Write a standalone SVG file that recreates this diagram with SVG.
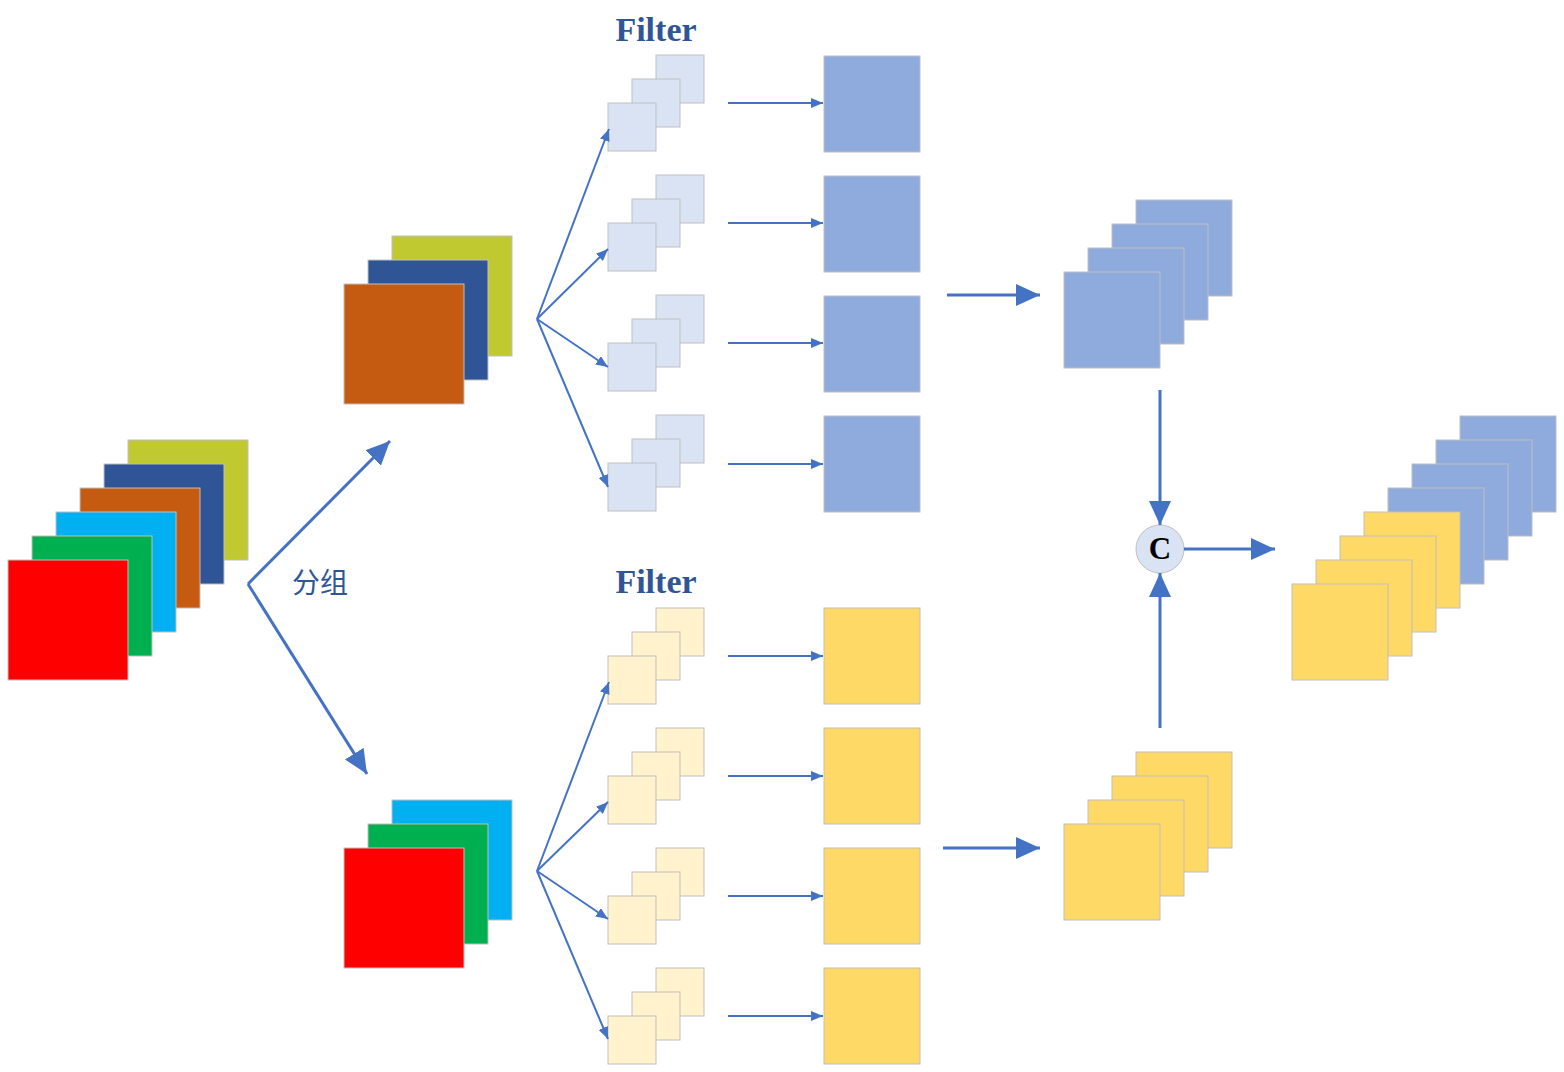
<svg xmlns="http://www.w3.org/2000/svg" width="1564" height="1072" viewBox="0 0 1564 1072">
<style>
rect{stroke:#BFBFBF;stroke-width:1}
.red{fill:#FF0000}.grn{fill:#00B050}.cyn{fill:#00B0F0}.org{fill:#C55A11}.nav{fill:#2F5597}.olv{fill:#C0C930}
.lb{fill:#DAE3F3}.ly{fill:#FFF2CC}.mb{fill:#8FAADC}.my{fill:#FFD966}
.thin{stroke:#4472C4;stroke-width:2;fill:none;marker-end:url(#sm)}
.thick{stroke:#4472C4;stroke-width:3;fill:none;marker-end:url(#bg)}
.ttl{font-family:"Liberation Serif",serif;font-weight:bold;font-size:34px;fill:#2F5597;text-anchor:middle}
</style>
<defs>
<marker id="sm" markerUnits="userSpaceOnUse" markerWidth="12" markerHeight="10" refX="12" refY="5" orient="auto"><path d="M0,0 L12,5 L0,10 z" fill="#4472C4"/></marker>
<marker id="bg" markerUnits="userSpaceOnUse" markerWidth="24" markerHeight="22" refX="24" refY="11" orient="auto"><path d="M0,0 L24,11 L0,22 z" fill="#4472C4"/></marker>
</defs>

<g id="input">
<rect class="olv" x="128" y="440" width="120" height="120"/>
<rect class="nav" x="104" y="464" width="120" height="120"/>
<rect class="org" x="80" y="488" width="120" height="120"/>
<rect class="cyn" x="56" y="512" width="120" height="120"/>
<rect class="grn" x="32" y="536" width="120" height="120"/>
<rect class="red" x="8" y="560" width="120" height="120"/>
</g>

<g id="group-a">
<rect class="olv" x="392" y="236" width="120" height="120"/>
<rect class="nav" x="368" y="260" width="120" height="120"/>
<rect class="org" x="344" y="284" width="120" height="120"/>
</g>
<g id="group-b">
<rect class="cyn" x="392" y="800" width="120" height="120"/>
<rect class="grn" x="368" y="824" width="120" height="120"/>
<rect class="red" x="344" y="848" width="120" height="120"/>
</g>

<text id="label-group" x="320" y="593" font-family="'Noto Sans CJK SC',sans-serif" font-size="28" fill="#2F5597" text-anchor="middle">分组</text>
<text id="filter-a-title" class="ttl" x="656" y="41">Filter</text>
<text id="filter-b-title" class="ttl" x="656" y="593">Filter</text>

<g id="filters-a">
<g id="fa1"><rect class="lb" x="656" y="55" width="48" height="48"/><rect class="lb" x="632" y="79" width="48" height="48"/><rect class="lb" x="608" y="103" width="48" height="48"/></g>
<g id="fa2"><rect class="lb" x="656" y="175" width="48" height="48"/><rect class="lb" x="632" y="199" width="48" height="48"/><rect class="lb" x="608" y="223" width="48" height="48"/></g>
<g id="fa3"><rect class="lb" x="656" y="295" width="48" height="48"/><rect class="lb" x="632" y="319" width="48" height="48"/><rect class="lb" x="608" y="343" width="48" height="48"/></g>
<g id="fa4"><rect class="lb" x="656" y="415" width="48" height="48"/><rect class="lb" x="632" y="439" width="48" height="48"/><rect class="lb" x="608" y="463" width="48" height="48"/></g>
</g>
<g id="filters-b">
<g id="fb1"><rect class="ly" x="656" y="608" width="48" height="48"/><rect class="ly" x="632" y="632" width="48" height="48"/><rect class="ly" x="608" y="656" width="48" height="48"/></g>
<g id="fb2"><rect class="ly" x="656" y="728" width="48" height="48"/><rect class="ly" x="632" y="752" width="48" height="48"/><rect class="ly" x="608" y="776" width="48" height="48"/></g>
<g id="fb3"><rect class="ly" x="656" y="848" width="48" height="48"/><rect class="ly" x="632" y="872" width="48" height="48"/><rect class="ly" x="608" y="896" width="48" height="48"/></g>
<g id="fb4"><rect class="ly" x="656" y="968" width="48" height="48"/><rect class="ly" x="632" y="992" width="48" height="48"/><rect class="ly" x="608" y="1016" width="48" height="48"/></g>
</g>

<g id="outputs-a">
<rect id="oa1" class="mb" x="824" y="56" width="96" height="96"/>
<rect id="oa2" class="mb" x="824" y="176" width="96" height="96"/>
<rect id="oa3" class="mb" x="824" y="296" width="96" height="96"/>
<rect id="oa4" class="mb" x="824" y="416" width="96" height="96"/>
</g>
<g id="outputs-b">
<rect id="ob1" class="my" x="824" y="608" width="96" height="96"/>
<rect id="ob2" class="my" x="824" y="728" width="96" height="96"/>
<rect id="ob3" class="my" x="824" y="848" width="96" height="96"/>
<rect id="ob4" class="my" x="824" y="968" width="96" height="96"/>
</g>

<g id="stack-a">
<rect class="mb" x="1136" y="200" width="96" height="96"/>
<rect class="mb" x="1112" y="224" width="96" height="96"/>
<rect class="mb" x="1088" y="248" width="96" height="96"/>
<rect class="mb" x="1064" y="272" width="96" height="96"/>
</g>
<g id="stack-b">
<rect class="my" x="1136" y="752" width="96" height="96"/>
<rect class="my" x="1112" y="776" width="96" height="96"/>
<rect class="my" x="1088" y="800" width="96" height="96"/>
<rect class="my" x="1064" y="824" width="96" height="96"/>
</g>

<g id="concat">
<circle cx="1160" cy="549" r="24" fill="#DAE3F3" stroke="#BFBFBF" stroke-width="1"/>
<text x="1160" y="559" font-family="'Liberation Serif',serif" font-weight="bold" font-size="31" text-anchor="middle" fill="#000">C</text>
</g>

<g id="result">
<rect class="mb" x="1460" y="416" width="96" height="96"/>
<rect class="mb" x="1436" y="440" width="96" height="96"/>
<rect class="mb" x="1412" y="464" width="96" height="96"/>
<rect class="mb" x="1388" y="488" width="96" height="96"/>
<rect class="my" x="1364" y="512" width="96" height="96"/>
<rect class="my" x="1340" y="536" width="96" height="96"/>
<rect class="my" x="1316" y="560" width="96" height="96"/>
<rect class="my" x="1292" y="584" width="96" height="96"/>
</g>

<g id="connectors">
<path class="thick" d="M248,584 L390,441"/>
<path class="thick" d="M248,584 L367,774"/>
<path class="thin" d="M537,319 L609,129"/>
<path class="thin" d="M537,319 L608,249"/>
<path class="thin" d="M537,319 L608,367"/>
<path class="thin" d="M537,319 L608,487"/>
<path class="thin" d="M537,871 L609,682"/>
<path class="thin" d="M537,871 L608,802"/>
<path class="thin" d="M537,871 L608,919"/>
<path class="thin" d="M537,871 L608,1039"/>
<path class="thin" d="M728,103 L823,103"/>
<path class="thin" d="M728,223 L823,223"/>
<path class="thin" d="M728,343 L823,343"/>
<path class="thin" d="M728,464 L823,464"/>
<path class="thin" d="M728,656 L823,656"/>
<path class="thin" d="M728,776 L823,776"/>
<path class="thin" d="M728,896 L823,896"/>
<path class="thin" d="M728,1016 L823,1016"/>
<path class="thick" d="M947,295 L1040,295"/>
<path class="thick" d="M943,848 L1040,848"/>
<path class="thick" d="M1160,390 L1160,525"/>
<path class="thick" d="M1160,728 L1160,573"/>
<path class="thick" d="M1184,549 L1275,549"/>
</g>
</svg>
